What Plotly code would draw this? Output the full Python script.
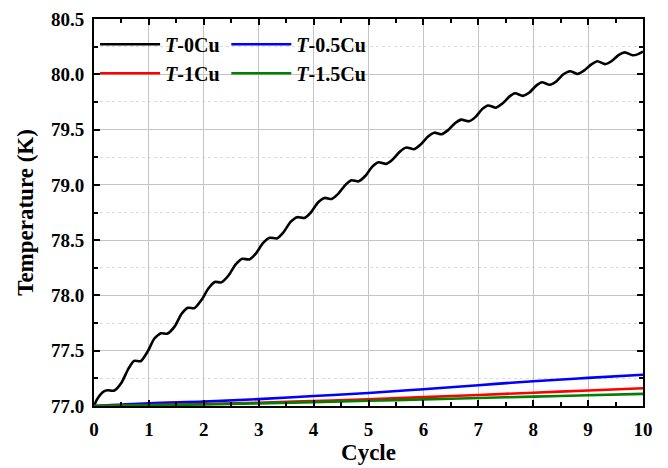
import plotly.graph_objects as go

# Cycle axis positions and temperature (K) for the uncoated sample (T-0Cu)
cycle_0cu = [
    0.00, 0.05, 0.12, 0.18,
    0.25, 0.37, 0.50, 0.63,
    0.73, 0.85, 0.98, 1.10,
    1.22, 1.34, 1.47, 1.59,
    1.71, 1.83, 1.96, 2.08,
    2.20, 2.32, 2.45, 2.58,
    2.70, 2.83, 2.95, 3.08,
    3.20, 3.33, 3.45, 3.58,
    3.70, 3.83, 3.95, 4.08,
    4.20, 4.33, 4.45, 4.58,
    4.69, 4.82, 4.94, 5.07,
    5.18, 5.32, 5.44, 5.57,
    5.69, 5.83, 5.95, 6.08,
    6.20, 6.33, 6.45, 6.58,
    6.69, 6.83, 6.95, 7.07,
    7.18, 7.32, 7.44, 7.57,
    7.67, 7.81, 7.93, 8.06,
    8.16, 8.30, 8.42, 8.55,
    8.67, 8.81, 8.93, 9.06,
    9.17, 9.31, 9.43, 9.56,
    9.67, 9.81, 9.90, 10.00,
]
temp_0cu = [
    77.000, 77.055, 77.105, 77.132,
    77.142, 77.140, 77.210, 77.340,
    77.408, 77.405, 77.495, 77.610,
    77.658, 77.655, 77.720, 77.830,
    77.888, 77.885, 77.960, 78.060,
    78.122, 78.118, 78.180, 78.280,
    78.332, 78.325, 78.380, 78.475,
    78.522, 78.515, 78.570, 78.665,
    78.708, 78.700, 78.750, 78.840,
    78.882, 78.872, 78.920, 79.000,
    79.042, 79.032, 79.080, 79.165,
    79.205, 79.190, 79.230, 79.300,
    79.338, 79.322, 79.365, 79.435,
    79.472, 79.458, 79.495, 79.560,
    79.590, 79.575, 79.615, 79.685,
    79.718, 79.698, 79.735, 79.800,
    79.828, 79.805, 79.835, 79.900,
    79.928, 79.905, 79.935, 80.000,
    80.028, 80.003, 80.035, 80.090,
    80.118, 80.092, 80.120, 80.175,
    80.198, 80.172, 80.180, 80.205,
]

# Cu-added samples, sampled once per cycle
cycle_cu = [0, 1, 2, 3, 4, 5, 6, 7, 8, 9, 10]
temp_05cu = [77.000, 77.025, 77.040, 77.062, 77.090, 77.117, 77.152, 77.188, 77.224, 77.254, 77.282]
temp_1cu = [77.000, 77.008, 77.018, 77.030, 77.045, 77.060, 77.080, 77.100, 77.120, 77.140, 77.160]
temp_15cu = [77.000, 77.006, 77.014, 77.024, 77.035, 77.047, 77.060, 77.072, 77.085, 77.097, 77.110]

x_ticks = [0, 1, 2, 3, 4, 5, 6, 7, 8, 9, 10]
y_ticks = [77.0, 77.5, 78.0, 78.5, 79.0, 79.5, 80.0, 80.5]

FONT = "Liberation Serif, Times New Roman, serif"

fig = go.Figure()
fig.add_trace(go.Scatter(x=cycle_0cu, y=temp_0cu, mode="lines", name="<i>T</i>-0Cu",
                         line=dict(color="black", width=2.6, shape="spline", smoothing=0.6),
                         legend="legend"))
fig.add_trace(go.Scatter(x=cycle_cu, y=temp_05cu, mode="lines", name="<i>T</i>-0.5Cu",
                         line=dict(color="#0000ff", width=2.6, shape="spline"),
                         legend="legend2"))
fig.add_trace(go.Scatter(x=cycle_cu, y=temp_1cu, mode="lines", name="<i>T</i>-1Cu",
                         line=dict(color="#ff0000", width=2.6, shape="spline"),
                         legend="legend"))
fig.add_trace(go.Scatter(x=cycle_cu, y=temp_15cu, mode="lines", name="<i>T</i>-1.5Cu",
                         line=dict(color="#008000", width=2.6, shape="spline"),
                         legend="legend2"))

axis_common = dict(
    showline=True, linecolor="black", linewidth=2, mirror="ticks",
    ticks="inside", ticklen=6, tickwidth=2, tickcolor="black",
    showgrid=True, gridcolor="#c4c4c4", gridwidth=1.2,
    zeroline=False, automargin=False,
    tickfont=dict(family=FONT, size=19, color="black", weight="bold"),
)

fig.update_xaxes(
    **axis_common,
    range=[0, 10], tickvals=x_ticks, ticktext=[str(v) for v in x_ticks],
    ticklabelstandoff=5,
    minor=dict(dtick=0.5, ticks="inside", ticklen=4, tickwidth=1.5, tickcolor="black", showgrid=False),
    title=dict(text="Cycle", font=dict(family=FONT, size=23, color="black", weight="bold"), standoff=5),
)
fig.update_yaxes(
    **axis_common,
    range=[77.0, 80.5], tickvals=y_ticks, ticktext=[f"{v:.1f}" for v in y_ticks],
    ticklabelstandoff=4,
    minor=dict(dtick=0.25, ticks="inside", ticklen=4, tickwidth=1.5, tickcolor="black",
               showgrid=True, gridcolor="#dcdcdc", griddash="dot", gridwidth=1),
    title=dict(text="Temperature (K)", font=dict(family=FONT, size=23, color="black", weight="bold"), standoff=11),
)

legend_common = dict(
    bgcolor="rgba(0,0,0,0)", borderwidth=0,
    font=dict(family=FONT, size=20, color="black", weight="bold"),
    itemwidth=60, tracegroupgap=0,
    xanchor="left", yanchor="top", orientation="v",
)

fig.update_layout(
    width=668, height=468,
    margin=dict(l=94, r=25, t=19, b=62),
    paper_bgcolor="white", plot_bgcolor="white",
    legend=dict(**legend_common, x=0.002, y=0.985),
    legend2=dict(**legend_common, x=0.241, y=0.985),
)

fig.write_html("out.html")
